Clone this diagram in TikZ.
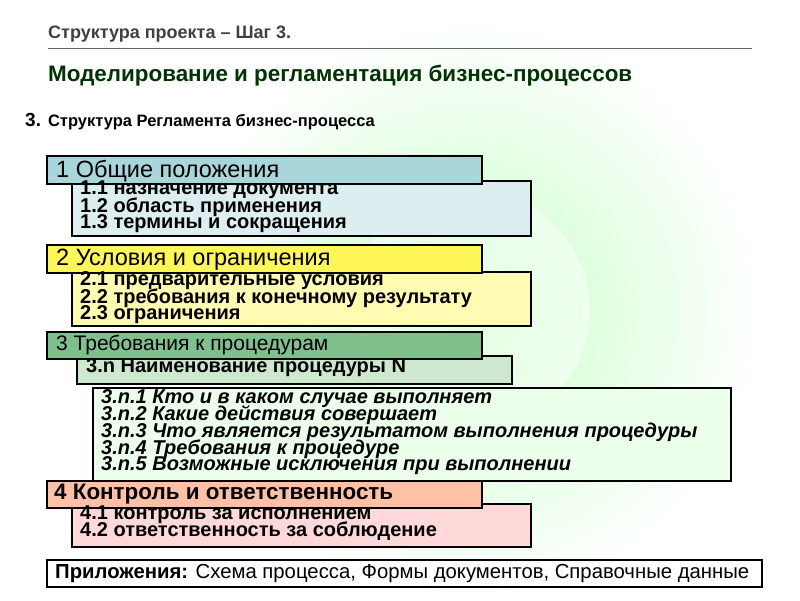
\documentclass[tikz,border=0pt]{standalone}
\usepackage{fontspec}
\setmainfont{Liberation Sans}
\definecolor{hblue}{HTML}{A9D6DB}
\definecolor{bblue}{HTML}{DDEEF0}
\definecolor{hgreen}{HTML}{80C08C}
\definecolor{bgreen}{HTML}{CDE8CF}
\begin{document}
\begin{tikzpicture}[x=1pt,y=-1pt,
 txt/.style={anchor=west,inner sep=0pt,font=\bfseries\fontsize{20}{20}\selectfont},
 htxt/.style={anchor=west,inner sep=0pt,font=\fontsize{23.5}{23.5}\selectfont}]
\useasboundingbox (0,0) rectangle (800,600);
\fill[white] (0,0) rectangle (800,600);
\shade[inner color=green!22!white, outer color=white] (470,310) circle (290);
\fill[white,opacity=0.5] (470,310) circle (120);
\node[anchor=west,inner sep=0pt,text=black!75,font=\bfseries\fontsize{18}{18}\selectfont] (t1) at (48,34) {Структура проекта – Шаг 3.};
\draw[black!60,line width=0.8pt] (48,48) -- (752,48);
\node[anchor=west,inner sep=0pt,text=black!80!green,font=\bfseries\fontsize{22.4}{22}\selectfont] (t2) at (48,76) {Моделирование и регламентация бизнес-процессов};
\node[anchor=west,inner sep=0pt,font=\bfseries\fontsize{19}{19}\selectfont] (t3) at (25,122) {3. \fontsize{16.5}{16}\selectfont Структура Регламента бизнес-процесса};
% box 1
\filldraw[fill=bblue,draw=black,line width=1.6pt] (72,181) rectangle (531,236);
\filldraw[fill=hblue,draw=black,line width=1.6pt] (47,156) rectangle (482,184);
\node[htxt] (h1) at (56,171) {1 Общие положения};
\node[txt] (a1) at (80,190) {1.1 назначение документа};
\node[txt] (a2) at (80,207) {1.2 область применения};
\node[txt] (a3) at (80,224) {1.3 термины и сокращения};
% box 2
\filldraw[fill=yellow!30!white,draw=black,line width=1.6pt] (72,272) rectangle (531,326);
\filldraw[fill=yellow!65!white,draw=black,line width=1.6pt] (47,245) rectangle (482,273);
\node[htxt] (h2) at (56,260) {2 Условия и ограничения};
\node[txt] (b1) at (80,281) {2.1 предварительные условия};
\node[txt] (b2) at (80,298) {2.2 требования к конечному результату};
\node[txt] (b3) at (80,315) {2.3 ограничения};
% box 3
\filldraw[fill=bgreen,draw=black,line width=1.6pt] (77,356) rectangle (512,384);
\filldraw[fill=hgreen,draw=black,line width=1.6pt] (47,332) rectangle (482,359);
\node[anchor=west,inner sep=0pt,font=\fontsize{21}{21}\selectfont] (h3) at (56,345) {3 Требования к процедурам};
\node[txt] (c0) at (86,368) {3.n Наименование процедуры N};
\filldraw[fill=green!8!white,draw=black,line width=1.6pt] (93,388) rectangle (731,481);
\foreach \y/\t [count=\i] in {399/{3.n.1 Кто и в каком случае выполняет},415/{3.n.2 Какие действия совершает},432/{3.n.3 Что является результатом выполнения процедуры},449/{3.n.4 Требования к процедуре},466/{3.n.5 Возможные исключения при выполнении}}
  \node[txt,font=\bfseries\itshape\fontsize{20}{20}\selectfont] (d\i) at (101,\y) {\t};
% box 4
\filldraw[fill=red!15!white,draw=black,line width=1.6pt] (72,504) rectangle (531,547);
\filldraw[fill=red!40!orange!35!white,draw=black,line width=1.6pt] (47,481) rectangle (482,508);
\node[htxt,font=\bfseries\fontsize{22.4}{22}\selectfont] (h4) at (54,494) {4 Контроль и ответственность};
\node[txt] (e1) at (80,515) {4.1 контроль за исполнением};
\node[txt] (e2) at (80,531) {4.2 ответственность за соблюдение};
% appendix
\filldraw[fill=white,draw=black,line width=1.6pt] (47,560) rectangle (762,587);
\node[anchor=west,inner sep=0pt,font=\fontsize{20.3}{20}\selectfont] (ap) at (55,574) {\textbf{Приложения:} Схема процесса, Формы документов, Справочные данные};
\end{tikzpicture}
\end{document}
